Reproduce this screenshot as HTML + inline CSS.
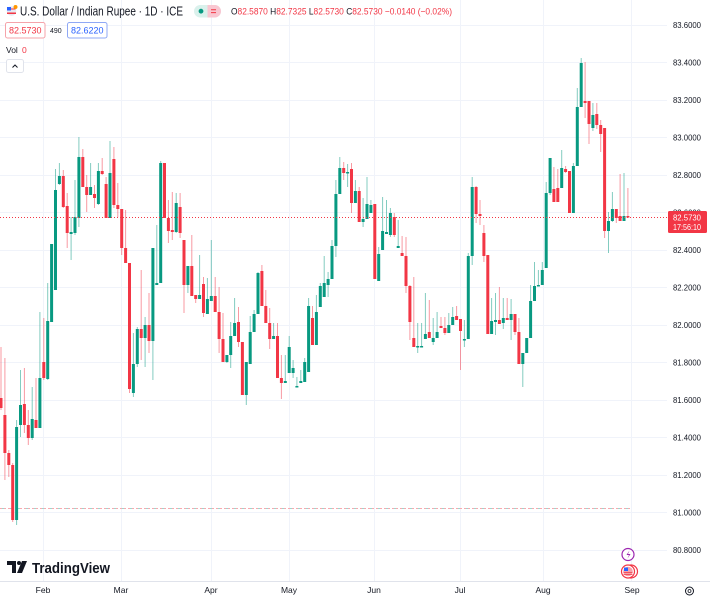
<!DOCTYPE html>
<html><head><meta charset="utf-8"><style>
html,body{margin:0;padding:0;background:#fff;}
svg{display:block;font-family:"Liberation Sans",sans-serif;}
</style></head><body>
<svg width="710" height="600" viewBox="0 0 710 600" xmlns="http://www.w3.org/2000/svg">
<rect width="710" height="600" fill="#fff"/>
<g stroke="#f0f3fa" stroke-width="1">
<path d="M0 25.5H667M0 62.5H667M0 100.5H667M0 137.5H667M0 175.5H667M0 212.5H667M0 250.5H667M0 287.5H667M0 325.5H667M0 362.5H667M0 400.5H667M0 437.5H667M0 475.5H667M0 512.5H667M0 550.5H667"/>
<path d="M43.5 0V581M121.5 0V581M211.5 0V581M289.5 0V581M374.5 0V581M460.5 0V581M543.5 0V581M631.5 0V581"/>
</g>
<line x1="0" y1="581.5" x2="710" y2="581.5" stroke="#e0e3eb"/>
<!-- low marker line -->
<line x1="0" y1="508.5" x2="630" y2="508.5" stroke="#f7a9b0" stroke-dasharray="2 2"/>
<line x1="2" y1="508.5" x2="630" y2="508.5" stroke="#9ed6cc" stroke-dasharray="2 6"/>
<!-- wicks -->
<path fill="none" stroke="#089981" stroke-opacity="0.5" stroke-width="1" d="M16.6 420V525M20.5 370V437M32.2 387V440M39.9 312V428M47.7 283V380M51.6 244V322M55.5 169V290M59.4 163V185M71.1 217V260M75 180V235M78.9 137V227M90.6 163V195M98.4 163V205M110 141V218M133.4 333V397M137.3 327V367M145.1 317V367M152.9 248V380M156.8 225V285M160.7 161V283M176.2 193V233M187.9 266V293M199.6 255V299M207.4 278V314M211.3 240V301M226.9 355V363M230.7 322V368M234.6 298V336M246.3 362V405M250.2 316V364M254.1 310V332M258 272V314M273.6 323V339M285.3 355V383M289.2 336V373M293.1 360V378M296.9 377V387M300.8 370V383M304.7 358V382M308.6 298V372M316.4 295V345M320.3 283V307M324.2 256V297M328.1 272V297M332 240V279M335.9 180V257M339.8 157V194M347.6 164V187M355.4 180V203M363.1 198V227M367 177V219M370.9 200V213M378.7 247V281M382.6 197V250M386.5 200V234M390.4 208V237M398.2 220V248M417.7 323V353M421.6 323V347M425.4 293V339M433.2 318V345M437.1 312V338M448.8 313V333M452.7 307V325M464.4 320V347M468.3 253V339M472.2 177V265M491.6 298V334M495.5 293V335M503.3 298V329M511.1 299V340M522.8 353V387M526.7 338V353M530.6 285V338M534.5 262V301M538.4 270V286M542.3 262V285M546.2 182V268M550.1 158V195M561.7 150V188M573.4 163V213M577.3 88V166M581.2 58V107M592.9 103V131M608.5 212V253M612.4 192V222M624 173V221"/>
<path fill="none" stroke="#f23645" stroke-opacity="0.5" stroke-width="1" d="M1 347V410M4.9 358V480M8.8 450V477M12.7 463V522M24.4 368V433M28.3 410V445M36 378V428M43.8 318V380M63.3 170V208M67.2 193V248M82.8 149V187M86.7 175V212M94.5 185V208M102.2 158V175M106.1 177V218M113.9 147V208M117.8 183V217M121.7 209V255M125.6 210V263M129.5 263V393M141.2 270V360M149 293V353M164.5 163V218M168.4 200V243M172.3 192V240M180.1 193V238M184 240V313M191.8 235V296M195.7 295V303M203.5 277V317M215.2 277V312M219.1 287V353M223 313V362M238.5 307V347M242.4 342V395M261.9 265V306M265.8 290V323M269.7 308V349M277.5 323V378M281.4 355V399M312.5 306V345M343.7 162V180M351.5 163V213M359.2 187V222M374.8 204V279M394.3 213V237M402.1 236V256M406 237V293M409.9 285V340M413.8 277V347M429.3 300V338M441 317V328M444.9 317V335M456.6 306V320M460.5 319V370M476.1 186V223M480 200V225M483.9 225V262M487.8 255V334M499.4 287V324M507.2 298V320M515 314V335M518.9 318V364M553.9 167V202M557.8 169V202M565.6 166V173M569.5 171V213M585.1 62V118M589 101V144M596.8 103V129M600.7 120V152M604.6 128V238M616.3 209V223M620.1 174V221M627.9 188V218"/>
<!-- bodies -->
<path fill="#089981" d="M15.1 427h3v93h-3zM19 405h3v20h-3zM30.7 419h3v19h-3zM38.4 378h3v50h-3zM46.2 321h3v58h-3zM50.1 244h3v78h-3zM54 190h3v100h-3zM57.9 176h3v8h-3zM69.6 232h3v2h-3zM73.5 217h3v16h-3zM77.4 157h3v61h-3zM89.1 187h3v8h-3zM96.9 171h3v33h-3zM108.5 173h3v45h-3zM131.9 364h3v29h-3zM135.8 329h3v35h-3zM143.6 325h3v13h-3zM151.4 248h3v93h-3zM155.3 283h3v2h-3zM159.2 163h3v120h-3zM174.7 203h3v29h-3zM186.4 266h3v19h-3zM198.1 295h3v4h-3zM205.9 299h3v15h-3zM209.8 296h3v5h-3zM225.4 355h3v7h-3zM229.2 336h3v19h-3zM233.1 323h3v13h-3zM244.8 362h3v33h-3zM248.7 332h3v32h-3zM252.6 314h3v18h-3zM256.5 273h3v41h-3zM272.1 336h3v3h-3zM283.8 381h3v2h-3zM287.7 347h3v26h-3zM291.6 368h3v5h-3zM295.4 386h3v1.5h-3zM299.3 381h3v2h-3zM303.2 362h3v20h-3zM307.1 306h3v66h-3zM314.9 312h3v33h-3zM318.8 286h3v21h-3zM322.7 283h3v14h-3zM326.6 279h3v6h-3zM330.5 246h3v33h-3zM334.4 194h3v52h-3zM338.3 168h3v26h-3zM346.1 172h3v1.5h-3zM353.9 191h3v12h-3zM361.6 219h3v3h-3zM365.5 204h3v15h-3zM369.4 205h3v8h-3zM377.2 254h3v27h-3zM381.1 231h3v19h-3zM385 232h3v2h-3zM388.9 213h3v22h-3zM396.7 246h3v2h-3zM416.2 346h3v1.5h-3zM420.1 346h3v1.5h-3zM423.9 334h3v5h-3zM431.7 338h3v4h-3zM435.6 332h3v6h-3zM447.3 325h3v8h-3zM451.2 317h3v8h-3zM462.9 339h3v1.5h-3zM466.8 256h3v83h-3zM470.7 187h3v69h-3zM490.1 321h3v13h-3zM494 320h3v2h-3zM501.8 318h3v5h-3zM509.6 314h3v6h-3zM521.3 353h3v11h-3zM525.2 338h3v15h-3zM529.1 301h3v37h-3zM533 286h3v15h-3zM536.9 285h3v1.5h-3zM540.8 270h3v15h-3zM544.7 193h3v75h-3zM548.6 158h3v35h-3zM560.2 168h3v20h-3zM571.9 166h3v47h-3zM575.8 107h3v59h-3zM579.7 63h3v44h-3zM591.4 115h3v13h-3zM607 221h3v10h-3zM610.9 209h3v12h-3zM622.5 216h3v5h-3z"/>
<path fill="#f23645" d="M-0.5 398h3v10h-3zM3.4 415h3v38h-3zM7.3 453h3v12h-3zM11.2 465h3v55h-3zM22.9 404h3v21h-3zM26.8 425h3v13h-3zM34.5 420h3v8h-3zM42.3 362h3v16h-3zM61.8 176h3v31h-3zM65.7 206h3v27h-3zM81.3 157h3v30h-3zM85.2 187h3v8h-3zM93 194h3v4h-3zM100.7 171h3v3h-3zM104.6 184h3v34h-3zM112.4 159h3v46h-3zM116.3 205h3v4h-3zM120.2 209h3v39h-3zM124.1 248h3v15h-3zM128 263h3v126h-3zM139.7 329h3v9h-3zM147.5 325h3v16h-3zM163 163h3v55h-3zM166.9 218h3v13h-3zM170.8 230h3v2h-3zM178.6 207h3v26h-3zM182.5 240h3v45h-3zM190.3 266h3v30h-3zM194.2 295h3v4h-3zM202 284h3v29h-3zM213.7 296h3v16h-3zM217.6 312h3v27h-3zM221.5 339h3v23h-3zM237 322h3v20h-3zM240.9 342h3v53h-3zM260.4 271h3v35h-3zM264.3 306h3v17h-3zM268.2 323h3v16h-3zM276 336h3v42h-3zM279.9 378h3v5h-3zM311 318h3v27h-3zM342.2 168h3v5h-3zM350 169h3v34h-3zM357.7 191h3v31h-3zM373.3 204h3v75h-3zM392.8 217h3v18h-3zM400.6 253h3v3h-3zM404.5 256h3v30h-3zM408.4 286h3v36h-3zM412.3 338h3v9h-3zM427.8 332h3v6h-3zM439.5 326h3v2h-3zM443.4 328h3v5h-3zM455.1 316h3v4h-3zM459 319h3v12h-3zM474.6 187h3v27h-3zM478.5 214h3v2h-3zM482.4 233h3v23h-3zM486.3 255h3v79h-3zM497.9 320h3v4h-3zM505.7 318h3v2h-3zM513.5 314h3v18h-3zM517.4 332h3v32h-3zM552.4 189h3v13h-3zM556.3 188h3v14h-3zM564.1 169h3v3h-3zM568 171h3v42h-3zM583.6 101h3v2h-3zM587.5 101h3v23h-3zM595.3 114h3v11h-3zM599.2 125h3v9h-3zM603.1 128h3v103h-3zM614.8 209h3v9h-3zM618.6 216h3v5h-3zM626.4 216h3v1.5h-3z"/>
<!-- current price line -->
<line x1="0" y1="217.5" x2="668" y2="217.5" stroke="#f23645" stroke-width="1" stroke-dasharray="1 2"/>
<!-- price axis -->
<g font-size="8.5" fill="#131722">
<text x="673" y="28" textLength="28" lengthAdjust="spacingAndGlyphs">83.6000</text>
<text x="673" y="65.5" textLength="28" lengthAdjust="spacingAndGlyphs">83.4000</text>
<text x="673" y="103" textLength="28" lengthAdjust="spacingAndGlyphs">83.2000</text>
<text x="673" y="140.5" textLength="28" lengthAdjust="spacingAndGlyphs">83.0000</text>
<text x="673" y="178" textLength="28" lengthAdjust="spacingAndGlyphs">82.8000</text>
<text x="673" y="215.5" textLength="28" lengthAdjust="spacingAndGlyphs">82.6000</text>
<text x="673" y="253" textLength="28" lengthAdjust="spacingAndGlyphs">82.4000</text>
<text x="673" y="290.5" textLength="28" lengthAdjust="spacingAndGlyphs">82.2000</text>
<text x="673" y="328" textLength="28" lengthAdjust="spacingAndGlyphs">82.0000</text>
<text x="673" y="365.5" textLength="28" lengthAdjust="spacingAndGlyphs">81.8000</text>
<text x="673" y="403" textLength="28" lengthAdjust="spacingAndGlyphs">81.6000</text>
<text x="673" y="440.5" textLength="28" lengthAdjust="spacingAndGlyphs">81.4000</text>
<text x="673" y="478" textLength="28" lengthAdjust="spacingAndGlyphs">81.2000</text>
<text x="673" y="515.5" textLength="28" lengthAdjust="spacingAndGlyphs">81.0000</text>
<text x="673" y="553" textLength="28" lengthAdjust="spacingAndGlyphs">80.8000</text>
</g>
<rect x="668" y="211" width="39" height="22" rx="1.5" fill="#f23645"/>
<text x="673" y="220.5" font-size="8.5" fill="#fff" textLength="28" lengthAdjust="spacingAndGlyphs">82.5730</text>
<text x="673" y="230" font-size="8.5" fill="#fff" textLength="28" lengthAdjust="spacingAndGlyphs">17:56:10</text>
<!-- time axis -->
<g font-size="8.5" fill="#131722" text-anchor="middle">
<text x="43" y="593">Feb</text>
<text x="121" y="593">Mar</text>
<text x="211" y="593">Apr</text>
<text x="289" y="593">May</text>
<text x="374" y="593">Jun</text>
<text x="460" y="593">Jul</text>
<text x="543" y="593">Aug</text>
<text x="632" y="593">Sep</text>
</g>
<!-- gear -->
<circle cx="689.5" cy="591" r="4" fill="none" stroke="#131722" stroke-width="1"/>
<circle cx="689.5" cy="591" r="1.5" fill="none" stroke="#131722" stroke-width="0.8"/>
<!-- event icons -->
<circle cx="628" cy="554.5" r="6" fill="#fff" stroke="#9c27b0" stroke-width="1.2"/>
<path d="M629.5 550.5l-3 4.5h2.5l-1.5 3.5 3-4.5h-2.5z" fill="#9c27b0"/>
<circle cx="631" cy="571.5" r="6.5" fill="#fff" stroke="#f23645" stroke-width="1.2"/>
<circle cx="628" cy="571.5" r="6.5" fill="#fff" stroke="#f23645" stroke-width="1.2"/>
<circle cx="628" cy="571.5" r="4.8" fill="#f7a0a8"/>
<rect x="624" y="567.5" width="4" height="3.5" fill="#2962ff"/>
<path d="M623.5 572.5h9M623.5 574.5h9" stroke="#f23645" stroke-width="0.8"/>
<!-- TradingView logo -->
<path d="M7 561h9v12h-4v-8h-5z" fill="#131722"/>
<circle cx="19" cy="563" r="2" fill="#131722"/>
<path d="M22 561h5l-5 12h-5z" fill="#131722"/>
<text x="32" y="573" font-size="15" font-weight="bold" fill="#131722" textLength="78" lengthAdjust="spacingAndGlyphs">TradingView</text>
<!-- header -->
<circle cx="11.5" cy="11" r="4.8" fill="#e8e8f0"/>
<path d="M7 12.5h9v1.5h-9z" fill="#f23645"/>
<path d="M7.5 9h8" stroke="#f23645" stroke-width="1"/>
<rect x="7" y="7" width="4" height="3.5" fill="#2962ff"/>
<circle cx="15.5" cy="7" r="2" fill="#ff9800"/>
<text x="20" y="15.5" font-size="12.5" fill="#131722" textLength="163" lengthAdjust="spacingAndGlyphs">U.S. Dollar / Indian Rupee · 1D · ICE</text>
<rect x="194" y="5" width="27" height="12.5" rx="6.25" fill="#daf1ec"/>
<path d="M207.5 5h7.25a6.25 6.25 0 0 1 0 12.5h-7.25z" fill="#f9c6d1"/>
<circle cx="201" cy="11.2" r="2.4" fill="#089981"/>
<path d="M211 9.8h5M211 12.6h5" stroke="#f23645" stroke-width="1"/>
<text x="231" y="14.5" font-size="9" fill="#f23645" textLength="221" lengthAdjust="spacingAndGlyphs"><tspan fill="#131722">O</tspan>82.5870 <tspan fill="#131722">H</tspan>82.7325 <tspan fill="#131722">L</tspan>82.5730 <tspan fill="#131722">C</tspan>82.5730 −0.0140 (−0.02%)</text>
<rect x="5.5" y="22.5" width="39.5" height="15.5" rx="2" fill="#fff" stroke="#f5a3aa"/>
<text x="25.25" y="33.5" font-size="9" fill="#f23645" text-anchor="middle">82.5730</text>
<text x="50" y="33" font-size="7" fill="#131722">490</text>
<rect x="67.5" y="22.5" width="39.5" height="15.5" rx="2" fill="#fff" stroke="#8fa8f5"/>
<text x="87.25" y="33.5" font-size="9" fill="#2962ff" text-anchor="middle">82.6220</text>
<text x="6" y="53" font-size="8.5" fill="#131722">Vol</text>
<text x="22" y="53" font-size="8.5" fill="#f23645">0</text>
<rect x="6.5" y="59.5" width="17" height="13" rx="2" fill="#fff" stroke="#e0e3eb"/>
<path d="M12.5 67.5l2.5-2.5 2.5 2.5" fill="none" stroke="#131722" stroke-width="1"/>
</svg>
</body></html>
